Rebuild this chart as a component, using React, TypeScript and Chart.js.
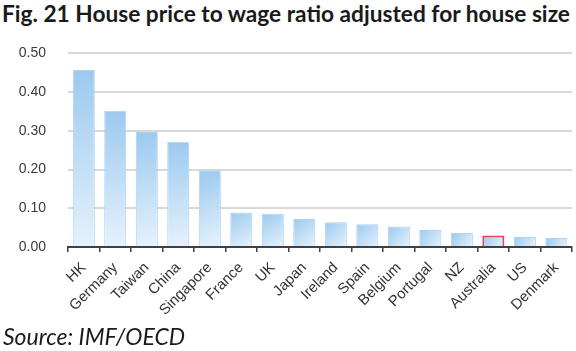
import React, { useEffect, useRef } from "react";
import { Chart, registerables } from "chart.js";

Chart.register(...registerables);

const TITLE = "Fig. 21 House price to wage ratio adjusted for house size";
const SOURCE = "Source: IMF/OECD";
const categories = ["HK", "Germany", "Taiwan", "China", "Singapore", "France", "UK", "Japan", "Ireland", "Spain", "Belgium", "Portugal", "NZ", "Australia", "US", "Denmark"];
const ratioValues = [0.457, 0.352, 0.297, 0.272, 0.198, 0.089, 0.086, 0.072, 0.064, 0.059, 0.053, 0.044, 0.036, 0.030, 0.026, 0.023];
const highlighted = ["Australia"];
const yTickValues = [0, 0.1, 0.2, 0.3, 0.4, 0.5];

export default function App() {
  const canvasRef = useRef<HTMLCanvasElement | null>(null);

  useEffect(() => {
    document.body.style.margin = "0";
    const canvas = canvasRef.current;
    if (!canvas) return;

    const bg = (ctx: any) => {
      const chart = ctx.chart;
      const xs = chart.scales?.x;
      const ys = chart.scales?.y;
      if (!xs || !ys || ctx.dataIndex === undefined) return "#c4e0f7";
      const cx = xs.getPixelForValue(ctx.dataIndex);
      const top = ys.getPixelForValue(ratioValues[ctx.dataIndex]);
      const bottom = ys.getPixelForValue(0);
      if (![cx, top, bottom].every((v) => Number.isFinite(v)) || bottom - top < 0.5) return "#c4e0f7";
      const g = chart.ctx.createLinearGradient(cx - 11, top, cx + 11, bottom);
      g.addColorStop(0, "#9bc9ef");
      g.addColorStop(1, "#e6f2fc");
      return g;
    };

    const chart = new Chart(canvas, {
      type: "bar",
      data: {
        labels: categories,
        datasets: [
          {
            data: ratioValues,
            backgroundColor: bg,
            borderColor: categories.map((c) => (highlighted.includes(c) ? "#e8455a" : "#a9d3f3")),
            borderWidth: categories.map((c) => (highlighted.includes(c) ? 2 : 1)),
            barPercentage: 0.7,
            categoryPercentage: 1,
          },
        ],
      },
      options: {
        animation: false,
        responsive: false,
        maintainAspectRatio: false,
        layout: { padding: { left: 0, right: 3, top: 13, bottom: 0 } },
        plugins: { legend: { display: false }, tooltip: { enabled: false } },
        scales: {
          x: {
            grid: {
              offset: true,
              drawOnChartArea: false,
              drawTicks: true,
              tickLength: 5,
              color: "#404040",
              lineWidth: 1.5,
            },
            border: { display: true, color: "#404040", width: 2 },
            ticks: {
              autoSkip: false,
              maxRotation: 45,
              minRotation: 45,
              padding: 7,
              color: "#333333",
              font: { family: "'Liberation Sans', Arial, sans-serif", size: 14.8 },
            },
            afterFit: (s: any) => {
              s.height = 83;
            },
          },
          y: {
            min: 0,
            max: 0.5,
            afterBuildTicks: (s: any) => {
              s.ticks = yTickValues.map((v) => ({ value: v }));
            },
            grid: { color: "#d9d9d9", lineWidth: 2, drawTicks: false },
            border: { display: false },
            ticks: {
              padding: 22,
              color: "#3a3a3a",
              font: { family: "'Liberation Sans', Arial, sans-serif", size: 14 },
              callback: (v: any) => Number(v).toFixed(2),
            },
            afterFit: (s: any) => {
              s.width = 68;
            },
          },
        },
      },
    });
    chart.update();
    return () => chart.destroy();
  }, []);

  return (
    <div style={{ position: "fixed", left: 0, top: 0, width: 576, height: 351, background: "#fff", overflow: "hidden" }}>
      <div
        style={{
          position: "absolute",
          left: 2,
          top: 0,
          fontFamily: "Lato, 'Open Sans', sans-serif",
          fontWeight: 700,
          fontSize: 22.7,
          color: "#1a1a1a",
          whiteSpace: "nowrap",
        }}
      >
        {TITLE}
      </div>
      <canvas ref={canvasRef} width={576} height={307} style={{ position: "absolute", left: 0, top: 23, width: 576, height: 307 }} />
      <div
        style={{
          position: "absolute",
          left: 3,
          top: 322,
          fontFamily: "Lato, 'Open Sans', sans-serif",
          fontStyle: "italic",
          fontSize: 23,
          color: "#1a1a1a",
          whiteSpace: "nowrap",
        }}
      >
        {SOURCE}
      </div>
    </div>
  );
}
